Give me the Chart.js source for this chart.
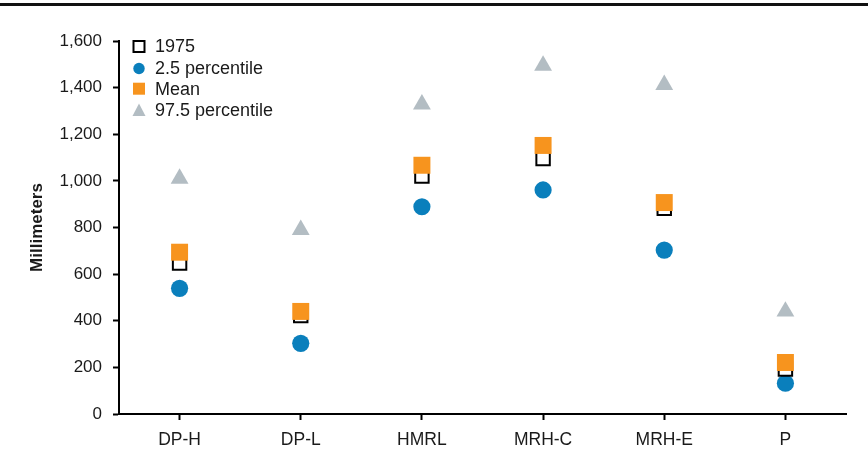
<!DOCTYPE html>
<html>
<head>
<meta charset="utf-8">
<script src="https://cdn.jsdelivr.net/npm/chart.js@4.4.1/dist/chart.umd.min.js"></script>
<style>
  body { margin: 0; background: #fff; }
  #wrap { position: relative; width: 868px; height: 464px; }
  #rule { position: absolute; left: 0; top: 3px; width: 868px; height: 3px; background: #111; }
</style>
</head>
<body>
<div id="wrap">
  <div id="rule"></div>
  <canvas id="chart" width="868" height="464"></canvas>
</div>
<script>
const categories = ['DP-H', 'DP-L', 'HMRL', 'MRH-C', 'MRH-E', 'P'];
const year1975 = [648, 422, 1021, 1096, 882, 193];
const pct2_5 = [539, 303, 889, 961, 703, 132];
const meanVals = [694, 440, 1067, 1152, 907, 221];
const pct97_5 = [1010, 790, 1328, 1495, 1412, 440];

const FONT = "'Liberation Sans', Arial, sans-serif";
const TEXT = '#1a1a1a';
const BLUE = '#0A7FBC';
const ORANGE = '#F7941E';
const GRAY = '#B3BDC3';

// legend entries drawn in the top-left corner of the plot
const legendItems = [
  { label: '1975', style: 'open' },
  { label: '2.5 percentile', style: 'circle' },
  { label: 'Mean', style: 'square' },
  { label: '97.5 percentile', style: 'triangle' }
];

const cornerLegend = {
  id: 'cornerLegend',
  afterDraw(chart) {
    const ctx = chart.ctx;
    const x = 139;
    const rows = [46.5, 68.5, 88.7, 110];
    ctx.save();
    legendItems.forEach((item, i) => {
      const y = rows[i];
      ctx.beginPath();
      if (item.style === 'open') {
        ctx.fillStyle = '#fff';
        ctx.strokeStyle = '#000';
        ctx.lineWidth = 2;
        ctx.rect(x - 5.5, y - 5.5, 11, 11);
        ctx.fill();
        ctx.stroke();
      } else if (item.style === 'circle') {
        ctx.fillStyle = BLUE;
        ctx.arc(x, y, 5.7, 0, Math.PI * 2);
        ctx.fill();
      } else if (item.style === 'square') {
        ctx.fillStyle = ORANGE;
        ctx.rect(x - 6, y - 6, 12, 12);
        ctx.fill();
      } else {
        ctx.fillStyle = GRAY;
        ctx.moveTo(x, y - 6.5);
        ctx.lineTo(x + 6.5, y + 6);
        ctx.lineTo(x - 6.5, y + 6);
        ctx.closePath();
        ctx.fill();
      }
      ctx.fillStyle = TEXT;
      ctx.font = '18px ' + FONT;
      ctx.textAlign = 'left';
      ctx.textBaseline = 'middle';
      ctx.fillText(item.label, 155, y + 1);
    });
    ctx.restore();
  }
};

new Chart(document.getElementById('chart').getContext('2d'), {
  type: 'line',
  data: {
    labels: categories,
    datasets: [
      {
        label: 'Mean',
        data: meanVals,
        showLine: false,
        pointStyle: 'rect',
        pointRadius: 12,
        pointBorderWidth: 0,
        pointBackgroundColor: ORANGE,
        pointBorderColor: ORANGE,
        order: 0
      },
      {
        label: '1975',
        data: year1975,
        showLine: false,
        pointStyle: 'rect',
        pointRadius: 9.5,
        pointBorderWidth: 2,
        pointBackgroundColor: '#fff',
        pointBorderColor: '#000',
        order: 1
      },
      {
        label: '2.5 percentile',
        data: pct2_5,
        showLine: false,
        pointStyle: 'circle',
        pointRadius: 8.6,
        pointBorderWidth: 0,
        pointBackgroundColor: BLUE,
        pointBorderColor: BLUE,
        order: 2
      },
      {
        label: '97.5 percentile',
        data: pct97_5,
        showLine: false,
        pointStyle: 'triangle',
        pointRadius: 10.3,
        pointBorderWidth: 0,
        pointBackgroundColor: GRAY,
        pointBorderColor: GRAY,
        order: 3
      }
    ]
  },
  options: {
    responsive: false,
    animation: false,
    layout: {
      padding: { top: 41, right: 22, bottom: 0, left: 0 }
    },
    plugins: {
      legend: { display: false },
      tooltip: { enabled: false }
    },
    scales: {
      x: {
        offset: true,
        grid: {
          offset: false,
          drawOnChartArea: false,
          drawTicks: true,
          tickLength: 6,
          tickWidth: 2,
          color: '#000'
        },
        border: { color: '#000', width: 2 },
        ticks: {
          color: TEXT,
          padding: 10,
          font: { family: FONT, size: 17.5 }
        },
        afterFit: (scale) => { scale.height = 50; }
      },
      y: {
        min: 0,
        max: 1600,
        grid: {
          drawOnChartArea: false,
          drawTicks: true,
          tickLength: 6,
          tickWidth: 2,
          color: '#000'
        },
        border: { color: '#000', width: 2 },
        ticks: {
          stepSize: 200,
          color: TEXT,
          padding: 11,
          font: { family: FONT, size: 17 },
          callback: (v) => v.toLocaleString('en-US')
        },
        title: {
          display: true,
          text: 'Millimeters',
          color: TEXT,
          padding: { top: 27, bottom: 0 },
          font: { family: FONT, size: 17, weight: 'bold' }
        },
        afterFit: (scale) => { scale.width = 119; }
      }
    }
  },
  plugins: [cornerLegend]
});
</script>
</body>
</html>
